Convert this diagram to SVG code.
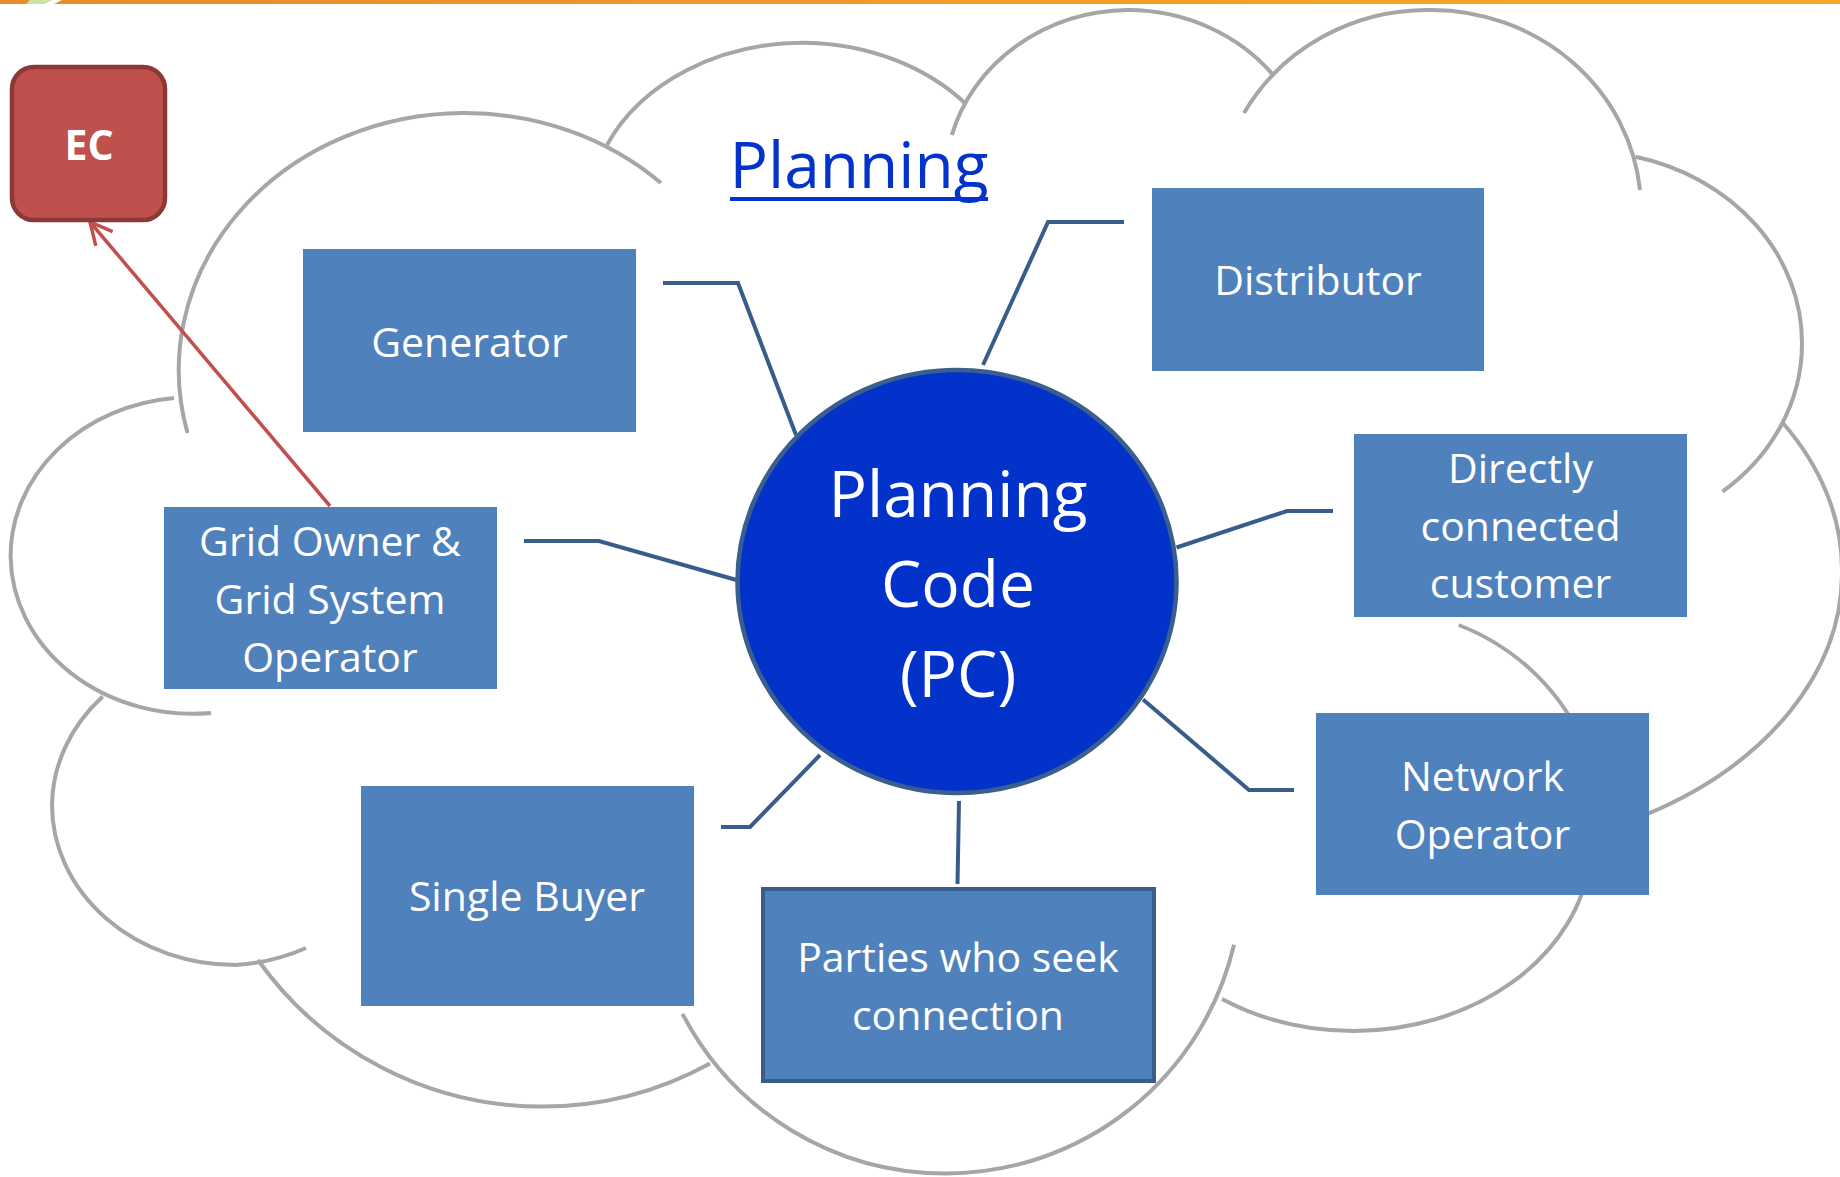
<svg xmlns="http://www.w3.org/2000/svg" width="1840" height="1177" viewBox="0 0 1840 1177">
<defs>
<style>
.cloud{fill:none;stroke:#A6A6A6;stroke-width:4}
.box{fill:#4F81BD}
.lbl{font-family:"Open Sans","Noto Sans",sans-serif;font-size:41px;fill:#FFFFFF;text-anchor:middle}
.con{fill:none;stroke:#385D8A;stroke-width:4}
</style>
<linearGradient id="bar" x1="0" y1="0" x2="1" y2="0">
<stop offset="0" stop-color="#E98A2C"/>
<stop offset="0.5" stop-color="#F39A28"/>
<stop offset="1" stop-color="#F9A826"/>
</linearGradient>
<marker id="arr" viewBox="-26 -14 30 28" refX="0" refY="0" markerWidth="30" markerHeight="28" markerUnits="userSpaceOnUse" orient="auto">
<path d="M-22,-11 L0,0 L-22,11" fill="none" stroke="#C0504D" stroke-width="3.5"/>
</marker>
</defs>
<rect x="0" y="0" width="1840" height="1177" fill="#FFFFFF"/>
<rect x="0" y="0" width="1840" height="4" fill="url(#bar)"/>
<polygon points="30,0 52,0 44,4 26,4" fill="#CDE3A6"/>
<polygon points="52,0 62,0 54,4 44,4" fill="#FFFFFF"/>
<g id="cloud">
<path class="cloud" d="M187.5,433 A286,257 0 0 1 463,113 A286,257 0 0 1 661,183"/>
<path class="cloud" d="M607,145 A215,170 0 0 1 805.5,42.7 A215,170 0 0 1 966,104"/>
<path class="cloud" d="M951.8,135 A185,170 0 0 1 1128,10 A185,170 0 0 1 1274,76"/>
<path class="cloud" d="M1244,113 A210,200 0 0 1 1432,10 A210,200 0 0 1 1640,190"/>
<path class="cloud" d="M1635.6,156.7 A217,191.6 0 0 1 1802,343 A217,191.6 0 0 1 1722.5,491.7"/>
<path class="cloud" d="M1782,422 A398,281 0 0 1 1842,570 A398,281 0 0 1 1645,815"/>
<path class="cloud" d="M1590,860 A238,190.4 0 0 1 1354,1031 A238,190.4 0 0 1 1222,999"/>
<path class="cloud" d="M1458.7,625 A226,226 0 0 1 1580,735"/>
<path class="cloud" d="M682.5,1013.8 A296,296 0 0 0 945.5,1173.5 A296,296 0 0 0 1234,944.7"/>
<path class="cloud" d="M710,1063.5 A348.6,348.6 0 0 1 542,1106.6 A348.6,348.6 0 0 1 258,960"/>
<path class="cloud" d="M102.7,696.5 A184,160 0 0 0 52,805 A184,160 0 0 0 236,965 A184,160 0 0 0 306,948"/>
<path class="cloud" d="M174,398 A182,158.8 0 0 0 10.6,556 A182,158.8 0 0 0 211,713"/>
</g>
<g id="connectors">
<path class="con" d="M663,283 L738,283 L796,435"/>
<path class="con" d="M983,365 L1048,222 L1124,222"/>
<path class="con" d="M1176.5,547.5 L1287,511 L1333,511"/>
<path class="con" d="M1143,699.5 L1249,790 L1294,790"/>
<path class="con" d="M959,801 L957.5,884"/>
<path class="con" d="M721,827 L750,827 L820,755"/>
<path class="con" d="M524,541 L599,541 L736.5,580"/>
<line x1="330" y1="506" x2="90" y2="222" stroke="#C0504D" stroke-width="3.5" marker-end="url(#arr)"/>
</g>
<g id="title">
<text x="859" y="188" font-family="'Open Sans','Noto Sans',sans-serif" font-size="64" fill="#0433CC" text-anchor="middle">Planning</text>
<rect x="730" y="197" width="258" height="4" fill="#0433CC"/>
</g>
<g id="ec">
<rect x="12" y="67" width="153" height="153" rx="22" ry="22" fill="#C0504D" stroke="#8C3836" stroke-width="4.5"/>
<text x="89" y="160" font-family="'Open Sans','Noto Sans',sans-serif" font-size="41" font-weight="bold" fill="#FFFFFF" text-anchor="middle">EC</text>
</g>
<g id="generator">
<rect class="box" x="303" y="249" width="333" height="183"/>
<text class="lbl" x="469.5" y="357">Generator</text>
</g>
<g id="distributor">
<rect class="box" x="1152" y="188" width="332" height="183"/>
<text class="lbl" x="1318" y="295">Distributor</text>
</g>
<g id="directly-connected-customer">
<rect class="box" x="1354" y="434" width="333" height="183"/>
<text class="lbl" x="1520.5" y="483">Directly</text>
<text class="lbl" x="1520.5" y="541">connected</text>
<text class="lbl" x="1520.5" y="598">customer</text>
</g>
<g id="grid-owner">
<rect class="box" x="164" y="507" width="333" height="182"/>
<text class="lbl" x="330" y="556">Grid Owner &amp;</text>
<text class="lbl" x="330" y="614">Grid System</text>
<text class="lbl" x="330" y="672">Operator</text>
</g>
<g id="network-operator">
<rect class="box" x="1316" y="713" width="333" height="182"/>
<text class="lbl" x="1482.5" y="791">Network</text>
<text class="lbl" x="1482.5" y="849">Operator</text>
</g>
<g id="single-buyer">
<rect class="box" x="361" y="786" width="333" height="220"/>
<text class="lbl" x="527" y="911">Single Buyer</text>
</g>
<g id="parties">
<rect class="box" x="763" y="889" width="391" height="192" stroke="#385D8A" stroke-width="4"/>
<text class="lbl" x="958" y="972">Parties who seek</text>
<text class="lbl" x="958" y="1030">connection</text>
</g>
<g id="planning-code">
<ellipse cx="957" cy="581.5" rx="219.5" ry="211.5" fill="#0232CA" stroke="#3A5F8E" stroke-width="4.5"/>
<text x="958" y="517" font-family="'Open Sans','Noto Sans',sans-serif" font-size="64" fill="#FFFFFF" text-anchor="middle">Planning</text>
<text x="958" y="607" font-family="'Open Sans','Noto Sans',sans-serif" font-size="64" fill="#FFFFFF" text-anchor="middle">Code</text>
<text x="958" y="697" font-family="'Open Sans','Noto Sans',sans-serif" font-size="64" fill="#FFFFFF" text-anchor="middle">(PC)</text>
</g>
</svg>
